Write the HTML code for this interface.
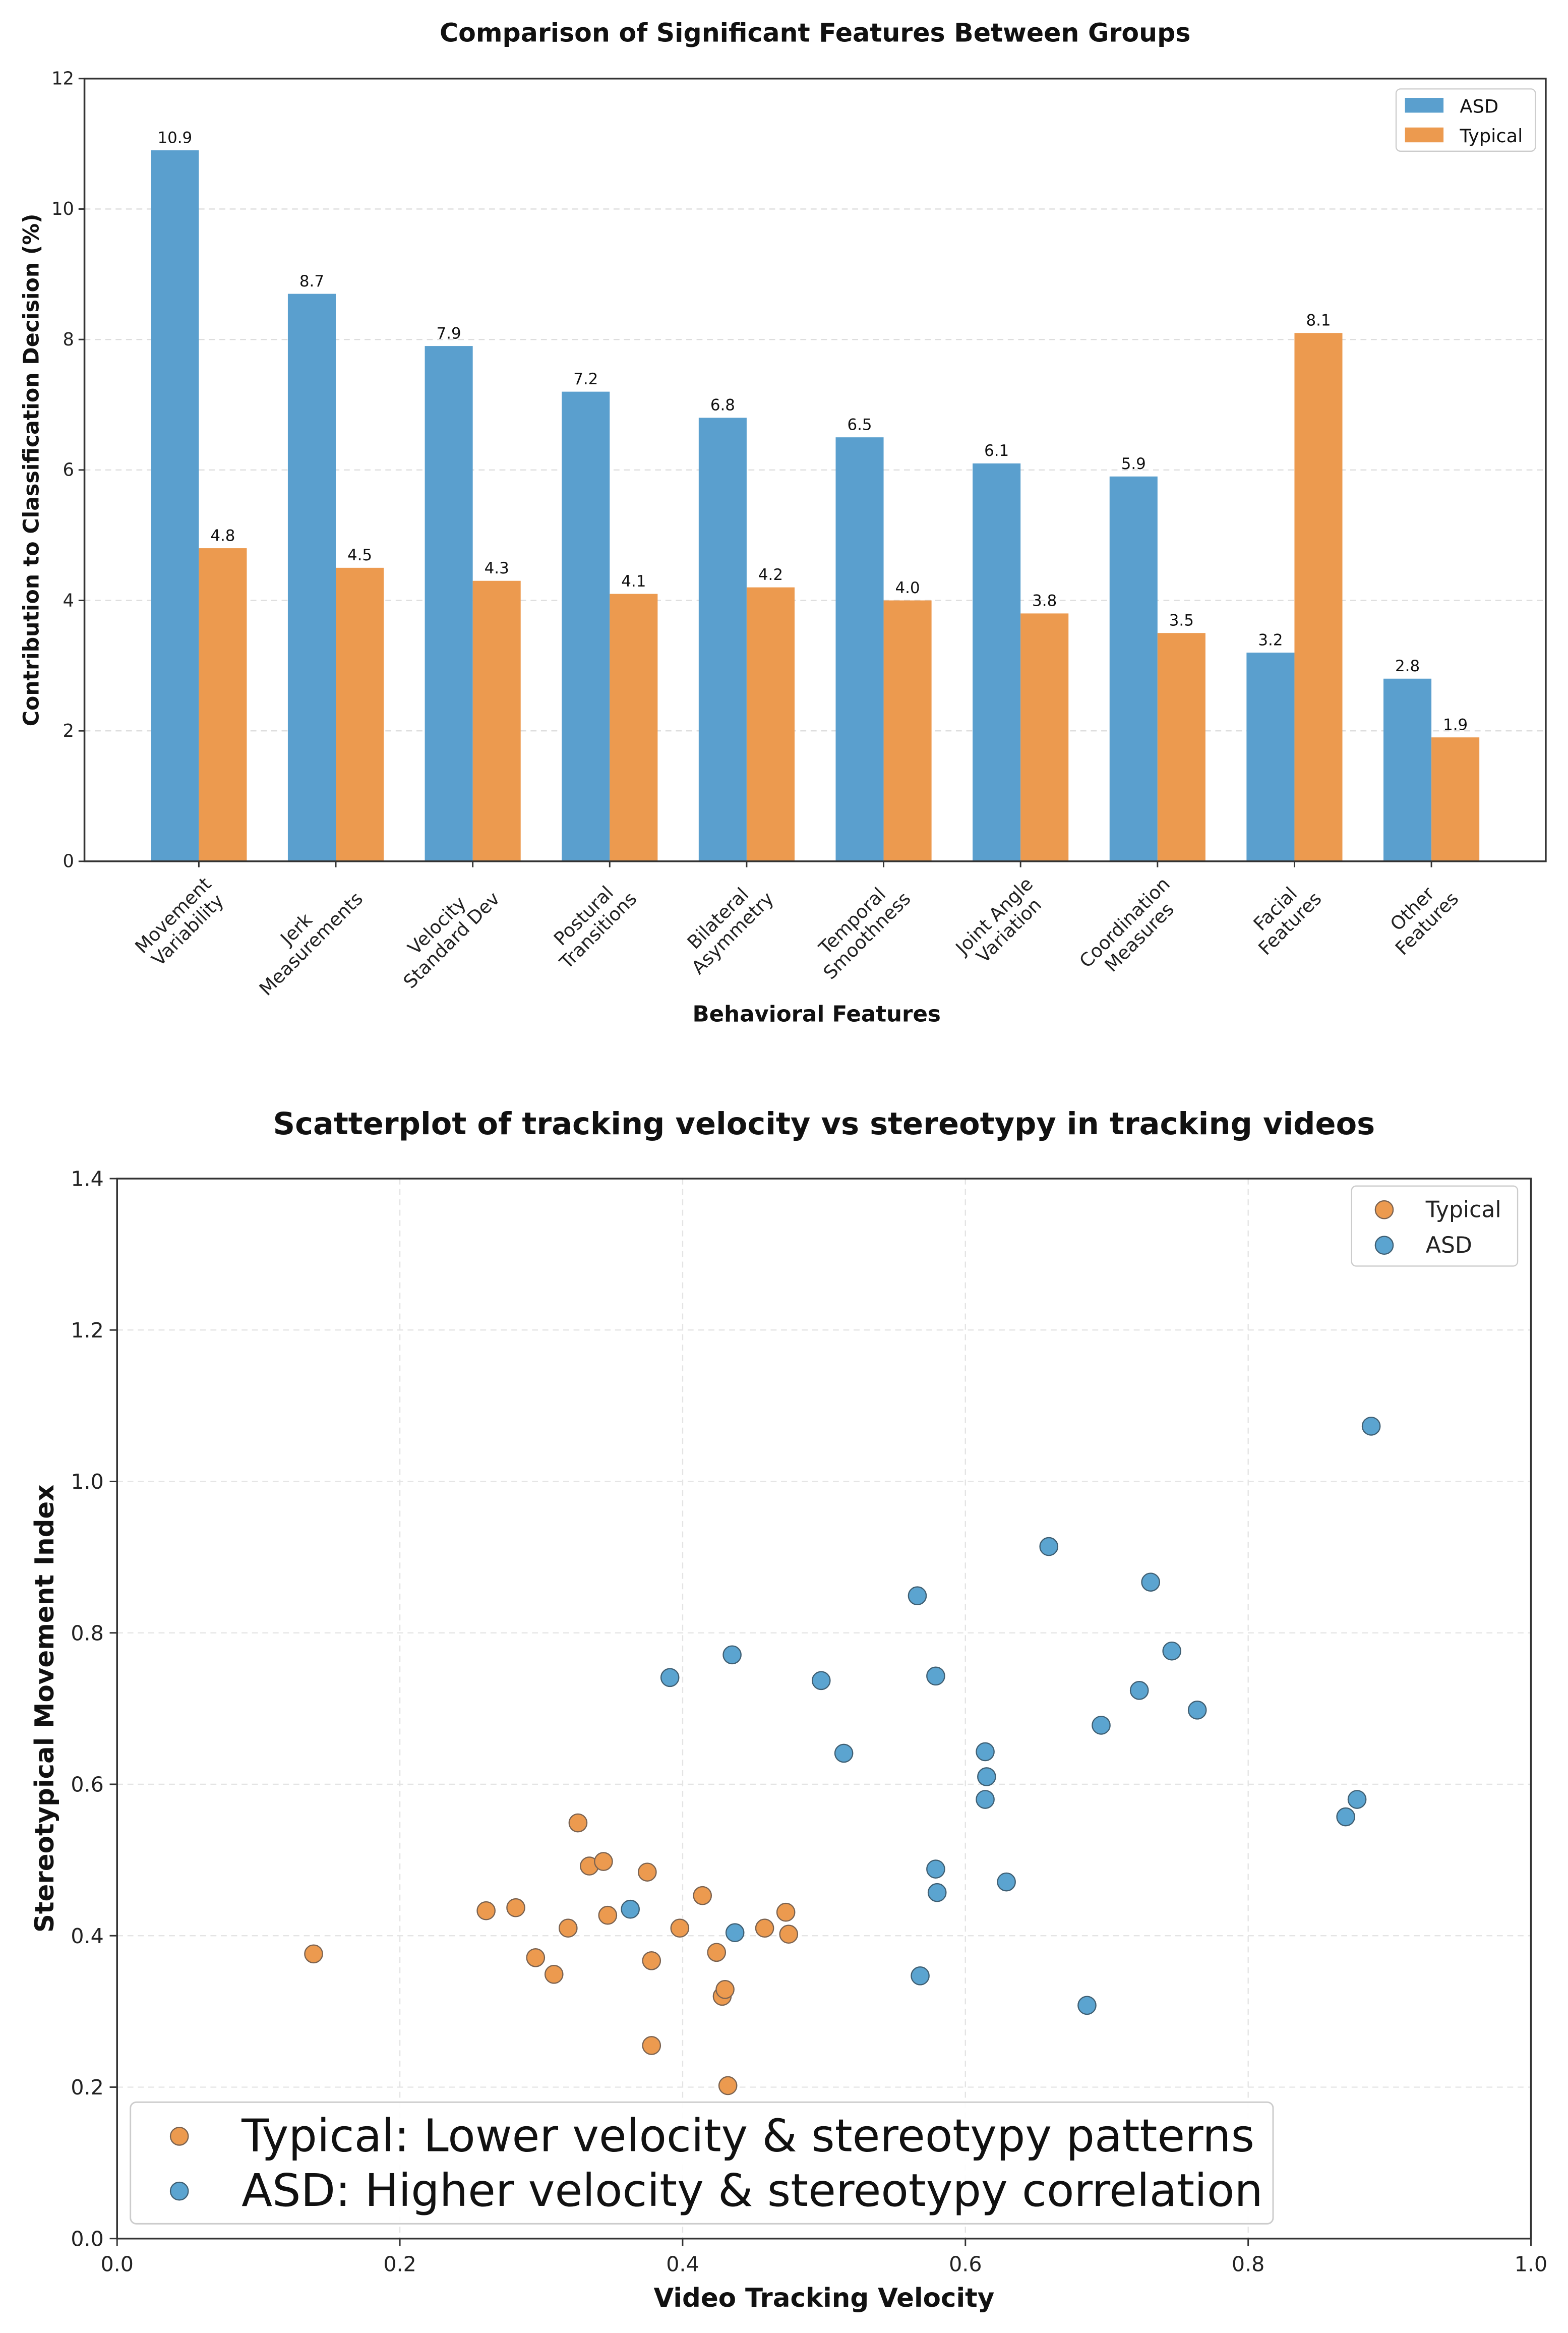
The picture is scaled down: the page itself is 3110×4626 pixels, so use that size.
<!DOCTYPE html>
<html><head><meta charset="utf-8">
<style>
html,body{margin:0;padding:0;background:#fff;}
svg{display:block;font-family:"DejaVu Sans","Liberation Sans",sans-serif;}
</style></head>
<body>
<svg id="root" width="3110" height="4626" viewBox="0 0 1058 1573.7" preserveAspectRatio="none" xmlns="http://www.w3.org/2000/svg">
<rect x="0" y="0" width="1058" height="1574" fill="#fff"/>
<g id="bar"></g>
<g id="sc"></g>
</svg>
<script>
// ---- Bar chart data ----
const barCategories = ["Movement\nVariability","Jerk\nMeasurements","Velocity\nStandard Dev","Postural\nTransitions","Bilateral\nAsymmetry","Temporal\nSmoothness","Joint Angle\nVariation","Coordination\nMeasures","Facial\nFeatures","Other\nFeatures"];
const asdValues = [10.9,8.7,7.9,7.2,6.8,6.5,6.1,5.9,3.2,2.8];
const typicalValues = [4.8,4.5,4.3,4.1,4.2,4.0,3.8,3.5,8.1,1.9];
const barYTicks = [0,2,4,6,8,10,12];
// ---- Scatter data ----
const typicalX = [0.139,0.261,0.282,0.296,0.309,0.319,0.326,0.334,0.344,0.347,0.375,0.378,0.378,0.398,0.414,0.424,0.428,0.430,0.432,0.458,0.473,0.475];
const typicalY = [0.376,0.433,0.437,0.371,0.349,0.410,0.549,0.492,0.498,0.427,0.484,0.367,0.255,0.410,0.453,0.378,0.320,0.329,0.202,0.410,0.431,0.402];
const asdX = [0.363,0.391,0.435,0.437,0.498,0.514,0.566,0.568,0.579,0.579,0.580,0.614,0.615,0.614,0.629,0.659,0.686,0.696,0.723,0.731,0.746,0.764,0.869,0.877,0.887];
const asdY = [0.435,0.741,0.771,0.404,0.737,0.641,0.849,0.347,0.743,0.488,0.457,0.643,0.610,0.580,0.471,0.914,0.308,0.678,0.724,0.867,0.776,0.698,0.557,0.580,1.073];
const scXTicks = [0.0,0.2,0.4,0.6,0.8,1.0];
const scYTicks = [0.0,0.2,0.4,0.6,0.8,1.0,1.2,1.4];

const NS="http://www.w3.org/2000/svg";
function mk(parent,tag,attrs,text){const e=document.createElementNS(NS,tag);for(const k in attrs)e.setAttribute(k,attrs[k]);if(text!==undefined)e.textContent=text;parent.appendChild(e);return e;}

// ===== BAR CHART =====
(function(){
const g=document.getElementById('bar');
const L=57,R=1043,T=53,B=581;
const xmin=-0.835,xmax=9.835;
const X=v=>L+(v-xmin)/(xmax-xmin)*(R-L);
const Y=v=>B-(v/12)*(B-T);
const bw=0.35;
let t=mk(g,'text',{x:550,y:28,'text-anchor':'middle','font-size':17.2,'font-weight':'bold',fill:'#111'},'Comparison of Significant Features Between Groups');

barYTicks.forEach(v=>{
  if(v>0&&v<12){const l=mk(g,'line',{x1:L,x2:R,y1:Y(v),y2:Y(v),stroke:'#ddd','stroke-width':0.8,'stroke-dasharray':'4,3'});}
  mk(g,'line',{x1:L-4,x2:L,y1:Y(v),y2:Y(v),stroke:'#333','stroke-width':1});
  const tx=mk(g,'text',{x:L-7,y:Y(v)+4,'text-anchor':'end','font-size':12,fill:'#222'},String(v));
  
});
barCategories.forEach((c,i)=>{
  const a=mk(g,'rect',{x:X(i-bw),y:Y(asdValues[i]),width:X(bw)-X(0),height:B-Y(asdValues[i]),fill:'#5A9FCE'});
  
  const b=mk(g,'rect',{x:X(i),y:Y(typicalValues[i]),width:X(bw)-X(0),height:B-Y(typicalValues[i]),fill:'#EC9A4F'});
  
  const la=mk(g,'text',{x:X(i-bw/2),y:Y(asdValues[i])-5,'text-anchor':'middle','font-size':10.5,fill:'#111'},asdValues[i].toFixed(1));
  
  const lb=mk(g,'text',{x:X(i+bw/2),y:Y(typicalValues[i])-5,'text-anchor':'middle','font-size':10.5,fill:'#111'},typicalValues[i].toFixed(1));
  
  mk(g,'line',{x1:X(i),x2:X(i),y1:B,y2:B+4,stroke:'#333','stroke-width':1});
  const lines=c.split('\n');
  const tg=mk(g,'g',{transform:`translate(${X(i)+2},${B+9}) rotate(-45)`});
  
  const els=lines.map((s,k)=>mk(tg,'text',{x:0,y:10+k*14,'text-anchor':'middle','font-size':12.5,fill:'#222'},s));
  let w=0;els.forEach(e=>{w=Math.max(w,e.getComputedTextLength());});
  els.forEach(e=>e.setAttribute('x',-w/2));
});
const fr=mk(g,'rect',{x:L,y:T,width:R-L,height:B-T,fill:'none',stroke:'#333','stroke-width':1.2});

t=mk(g,'text',{x:551,y:689,'text-anchor':'middle','font-size':14.8,'font-weight':'bold',fill:'#111'},'Behavioral Features');

t=mk(g,'text',{x:0,y:0,transform:`translate(26,317) rotate(-90)`,'text-anchor':'middle','font-size':14.5,'font-weight':'bold',fill:'#111'},'Contribution to Classification Decision (%)');

const lg=mk(g,'g',{});
mk(lg,'rect',{x:942,y:60,width:94,height:42,rx:3,fill:'#fff',stroke:'#ccc','stroke-width':0.8});
let e=mk(lg,'rect',{x:948,y:66,width:26,height:10,fill:'#5A9FCE'});
e=mk(lg,'text',{x:985,y:76,'font-size':12.5,fill:'#111'},'ASD');
e=mk(lg,'rect',{x:948,y:86,width:26,height:10,fill:'#EC9A4F'});
e=mk(lg,'text',{x:985,y:96,'font-size':12.5,fill:'#111'},'Typical');
})();

// ===== SCATTER =====
(function(){
const g=document.getElementById('sc');
const L=79,R=1033,T=795,B=1510;
const X=v=>L+v*(R-L);
const Y=v=>B-(v/1.4)*(B-T);
let t=mk(g,'text',{x:556,y:765,'text-anchor':'middle','font-size':20.6,'font-weight':'bold',fill:'#111'},'Scatterplot of tracking velocity vs stereotypy in tracking videos');

scXTicks.forEach(v=>{
  if(v>0&&v<1){const l=mk(g,'line',{x1:X(v),x2:X(v),y1:T,y2:B,stroke:'#e4e4e4','stroke-width':0.8,'stroke-dasharray':'4,3'});}
  mk(g,'line',{x1:X(v),x2:X(v),y1:B,y2:B+5,stroke:'#333','stroke-width':1});
  const tx=mk(g,'text',{x:X(v),y:B+22,'text-anchor':'middle','font-size':14,fill:'#222'},v.toFixed(1));
  
});
scYTicks.forEach(v=>{
  if(v>0&&v<1.4){const l=mk(g,'line',{x1:L,x2:R,y1:Y(v),y2:Y(v),stroke:'#e4e4e4','stroke-width':0.8,'stroke-dasharray':'4,3'});}
  mk(g,'line',{x1:L-5,x2:L,y1:Y(v),y2:Y(v),stroke:'#333','stroke-width':1});
  const tx=mk(g,'text',{x:L-9,y:Y(v)+5,'text-anchor':'end','font-size':14,fill:'#222'},v.toFixed(1));
  
});
typicalX.forEach((x,i)=>{const c=mk(g,'circle',{cx:X(x),cy:Y(typicalY[i]),r:6,fill:'#EC9A4F',stroke:'#7a6250','stroke-width':0.8});});
asdX.forEach((x,i)=>{const c=mk(g,'circle',{cx:X(x),cy:Y(asdY[i]),r:6,fill:'#5BA4D0',stroke:'#3f5f73','stroke-width':0.8});});
const fr=mk(g,'rect',{x:L,y:T,width:R-L,height:B-T,fill:'none',stroke:'#333','stroke-width':1.2});

t=mk(g,'text',{x:556,y:1556,'text-anchor':'middle','font-size':17.5,'font-weight':'bold',fill:'#111'},'Video Tracking Velocity');

t=mk(g,'text',{x:0,y:0,transform:`translate(36,${(T+B)/2}) rotate(-90)`,'text-anchor':'middle','font-size':17.5,'font-weight':'bold',fill:'#111'},'Stereotypical Movement Index');

const lg=mk(g,'g',{});
mk(lg,'rect',{x:912,y:800,width:112,height:54,rx:3,fill:'#fff','fill-opacity':0.85,stroke:'#ccc','stroke-width':0.8});
mk(lg,'circle',{cx:934,cy:816,r:6,fill:'#EC9A4F',stroke:'#7a6250','stroke-width':0.8});
let e=mk(lg,'text',{x:962,y:821,'font-size':15,fill:'#222'},'Typical');
mk(lg,'circle',{cx:934,cy:840,r:6,fill:'#5BA4D0',stroke:'#3f5f73','stroke-width':0.8});
e=mk(lg,'text',{x:962,y:845,'font-size':15,fill:'#222'},'ASD');
const lg2=mk(g,'g',{});
mk(lg2,'rect',{x:88,y:1418,width:771,height:82,rx:4,fill:'#fff','fill-opacity':0.9,stroke:'#ccc','stroke-width':1});
mk(lg2,'circle',{cx:121,cy:1441,r:6,fill:'#EC9A4F',stroke:'#7a6250','stroke-width':0.8});
e=mk(lg2,'text',{x:163,y:1451,'font-size':30.3,fill:'#111'},'Typical: Lower velocity & stereotypy patterns');
mk(lg2,'circle',{cx:121,cy:1478,r:6,fill:'#5BA4D0',stroke:'#3f5f73','stroke-width':0.8});
e=mk(lg2,'text',{x:163,y:1488,'font-size':30.3,fill:'#111'},'ASD: Higher velocity & stereotypy correlation');
})();
</script>
</body></html>
